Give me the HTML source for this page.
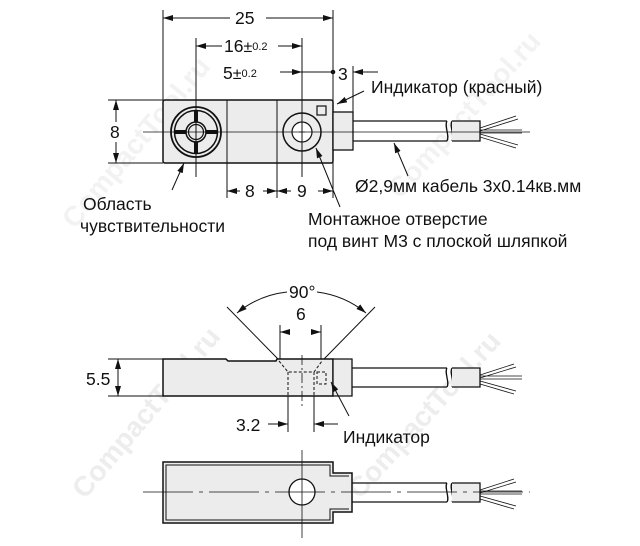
<!DOCTYPE html>
<html><head><meta charset="utf-8"><style>
html,body{margin:0;padding:0;background:#fff}
svg{display:block}
text{font-family:"Liberation Sans",sans-serif;fill:#111}
</style></head><body>
<svg width="640" height="546" viewBox="0 0 640 546" xmlns="http://www.w3.org/2000/svg">
<defs>
<marker id="a" viewBox="0 0 10 6" refX="10" refY="3" markerWidth="10" markerHeight="6" orient="auto-start-reverse" markerUnits="userSpaceOnUse"><path d="M0,0L10,3L0,6z" fill="#111"/></marker>
</defs>
<g font-size="28" font-family="Liberation Sans" font-weight="bold">
<text x="0" y="0" transform="translate(85,500) rotate(-50)" style="fill:#ededed">CompactTool.ru</text>
<text x="0" y="0" transform="translate(360,500) rotate(-48)" style="fill:#ededed">CompactTool.ru</text>
<text x="0" y="0" transform="translate(75,230) rotate(-50)" style="fill:#f2f2f2">CompactTool.ru</text>
<text x="0" y="0" transform="translate(400,200) rotate(-48)" style="fill:#f2f2f2">CompactTool.ru</text>
</g>
<g stroke="#111" fill="none" stroke-width="1">
<!-- TOP VIEW -->
<rect x="163" y="100" width="170" height="63" rx="2" fill="#ececec" stroke-width="1.5"/>
<line x1="227" y1="100" x2="227" y2="198"/>
<line x1="277" y1="100" x2="277" y2="198"/>
<rect x="333" y="112" width="20" height="38" fill="#ececec" stroke-width="1.3"/>
<path d="M353,121H447M353,141H447" stroke-width="1.3"/>
<path d="M447,121c-3,5 3,15 0,20M452,121c-3,5 3,15 0,20" stroke-width="1.3"/>
<path d="M452,121H480V141H452" fill="#ececec" stroke-width="1.3"/>
<path d="M480,128L516,116M480,131L518,119M480,130H522M480,133H522M480,134L518,145M480,137L516,148" stroke-width="0.8"/>
<circle cx="196" cy="132" r="25" stroke-width="1.8"/>
<circle cx="196" cy="132" r="21.5" stroke-width="1.5"/>
<circle cx="196" cy="132" r="10" stroke-width="1.5"/>
<circle cx="196" cy="132" r="7.5" stroke-width="1.2"/>
<path d="M196,110V122M196,142V154M174,132H186M206,132H218" stroke-width="4"/>
<circle cx="302" cy="132" r="19" stroke-width="1.5"/>
<circle cx="302" cy="132" r="10" stroke-width="1.2" fill="#fff"/>
<path d="M299,132h6M302,129v6" stroke-width="0.8"/>
<rect x="317" y="106" width="9" height="9" stroke-width="1.2"/>
<line x1="143" y1="132" x2="530" y2="132" stroke-width="0.8"/>
<line x1="196" y1="38" x2="196" y2="177"/>
<line x1="302" y1="38" x2="302" y2="177"/>
<line x1="163" y1="10" x2="163" y2="100"/>
<line x1="333" y1="10" x2="333" y2="198"/>
<line x1="230" y1="18" x2="163" y2="18" marker-end="url(#a)"/>
<line x1="266" y1="18" x2="333" y2="18" marker-end="url(#a)"/>
<line x1="222" y1="46" x2="196" y2="46" marker-end="url(#a)"/>
<line x1="278" y1="46" x2="302" y2="46" marker-end="url(#a)"/>
<line x1="280" y1="72" x2="302" y2="72" marker-end="url(#a)"/>
<line x1="302" y1="72" x2="333" y2="72"/>
<line x1="378" y1="72" x2="353" y2="72" marker-end="url(#a)"/>
<line x1="353" y1="66" x2="353" y2="112"/>
<line x1="108" y1="100" x2="163" y2="100"/>
<line x1="108" y1="163" x2="163" y2="163"/>
<line x1="116" y1="122" x2="116" y2="100" marker-end="url(#a)"/>
<line x1="116" y1="142" x2="116" y2="163" marker-end="url(#a)"/>
<line x1="240" y1="191" x2="227" y2="191" marker-end="url(#a)"/>
<line x1="263" y1="191" x2="277" y2="191" marker-end="url(#a)"/>
<line x1="291" y1="191" x2="277" y2="191" marker-end="url(#a)"/>
<line x1="318" y1="191" x2="333" y2="191" marker-end="url(#a)"/>
<line x1="172" y1="190" x2="184" y2="163" marker-end="url(#a)"/>
<line x1="340" y1="207" x2="316" y2="148" marker-end="url(#a)"/>
<line x1="364" y1="91" x2="337" y2="104" marker-end="url(#a)"/>
<line x1="408" y1="176" x2="394" y2="143" marker-end="url(#a)"/>
<circle cx="333" cy="72" r="1.8" fill="#111"/>

<!-- SIDE VIEW -->
<path d="M163,359H226L228,361H276L277,359H333V396H163Z" fill="#ececec" stroke-width="1.5"/>
<path d="M333,359H352V396H333Z" fill="#ececec" stroke-width="1.3"/>
<path d="M352,368H447M352,387H447" stroke-width="1.3"/>
<path d="M447,368c-3,4 3,15 0,19M452,368c-3,4 3,15 0,19" stroke-width="1.3"/>
<path d="M452,368H480V387H452" fill="#ececec" stroke-width="1.3"/>
<path d="M480,375L514,364M480,378L516,367M480,376H522M480,379H522M480,381L516,391M480,384L514,394" stroke-width="0.8"/>
<line x1="278" y1="359" x2="227" y2="307"/>
<line x1="324" y1="359" x2="375" y2="307"/>
<path d="M287,292A96,96 0 0 0 237,313" marker-end="url(#a)"/>
<path d="M317,292A96,96 0 0 1 366,313" marker-end="url(#a)"/>
<line x1="280" y1="325" x2="280" y2="359"/>
<line x1="321" y1="325" x2="321" y2="359"/>
<line x1="290" y1="332" x2="280" y2="332" marker-end="url(#a)"/>
<line x1="311" y1="332" x2="321" y2="332" marker-end="url(#a)"/>
<g stroke-dasharray="3,2">
<path d="M279,361L288,372H314L322,361M288,372V396M314,372V396"/>
<rect x="317" y="372" width="9" height="12"/>
</g>
<line x1="302" y1="355" x2="302" y2="406" stroke-dasharray="10,3,2,3" stroke-width="0.8"/>
<line x1="288" y1="396" x2="288" y2="432"/>
<line x1="314" y1="396" x2="314" y2="432"/>
<line x1="268" y1="424" x2="288" y2="424" marker-end="url(#a)"/>
<line x1="338" y1="424" x2="314" y2="424" marker-end="url(#a)"/>
<line x1="108" y1="359" x2="163" y2="359"/>
<line x1="108" y1="396" x2="163" y2="396"/>
<line x1="118" y1="378" x2="118" y2="359" marker-end="url(#a)"/>
<line x1="118" y1="378" x2="118" y2="396" marker-end="url(#a)"/>
<line x1="349" y1="416" x2="331" y2="382" marker-end="url(#a)"/>

<!-- BOTTOM VIEW -->
<path d="M163,462H333V473H352V512H333V523H163Z" fill="#ececec" stroke-width="1.5"/>
<path d="M349,476H330V465H166V520H330V509H349" stroke-width="1"/>
<path d="M352,483H447M352,502H447" stroke-width="1.3"/>
<path d="M447,483c-3,4 3,15 0,19M452,483c-3,4 3,15 0,19" stroke-width="1.3"/>
<path d="M452,483H480V502H452" fill="#ececec" stroke-width="1.3"/>
<path d="M480,490L514,479M480,493L516,482M480,491H522M480,494H522M480,496L516,506M480,499L514,509" stroke-width="0.8"/>
<circle cx="302" cy="492" r="13" fill="#fff" stroke-width="1.3"/>
<line x1="143" y1="492" x2="530" y2="492" stroke-dasharray="50,6,4,6" stroke-width="0.8"/>
<line x1="302" y1="450" x2="302" y2="538" stroke-width="0.8"/>
</g>
<g font-size="17.5">
<text x="235" y="24">25</text>
<text x="224" y="52">16<tspan font-size="16">±</tspan><tspan font-size="11" dy="-2">0.2</tspan></text>
<text x="223" y="79">5<tspan font-size="16">±</tspan><tspan font-size="11" dy="-2">0.2</tspan></text>
<text x="338" y="80">3</text>
<text x="371" y="93">Индикатор (красный)</text>
<text x="110" y="138">8</text>
<text x="245" y="197">8</text>
<text x="297" y="197">9</text>
<text x="83" y="210">Область</text>
<text x="80" y="232">чувствительности</text>
<text x="355" y="192">Ø2,9мм кабель 3х0.14кв.мм</text>
<text x="308" y="225">Монтажное отверстие</text>
<text x="308" y="247">под винт M3 с плоской шляпкой</text>
<text x="289" y="298">90°</text>
<text x="296" y="320">6</text>
<text x="86" y="385">5.5</text>
<text x="236" y="431">3.2</text>
<text x="343" y="443">Индикатор</text>
</g>
</svg>
</body></html>
